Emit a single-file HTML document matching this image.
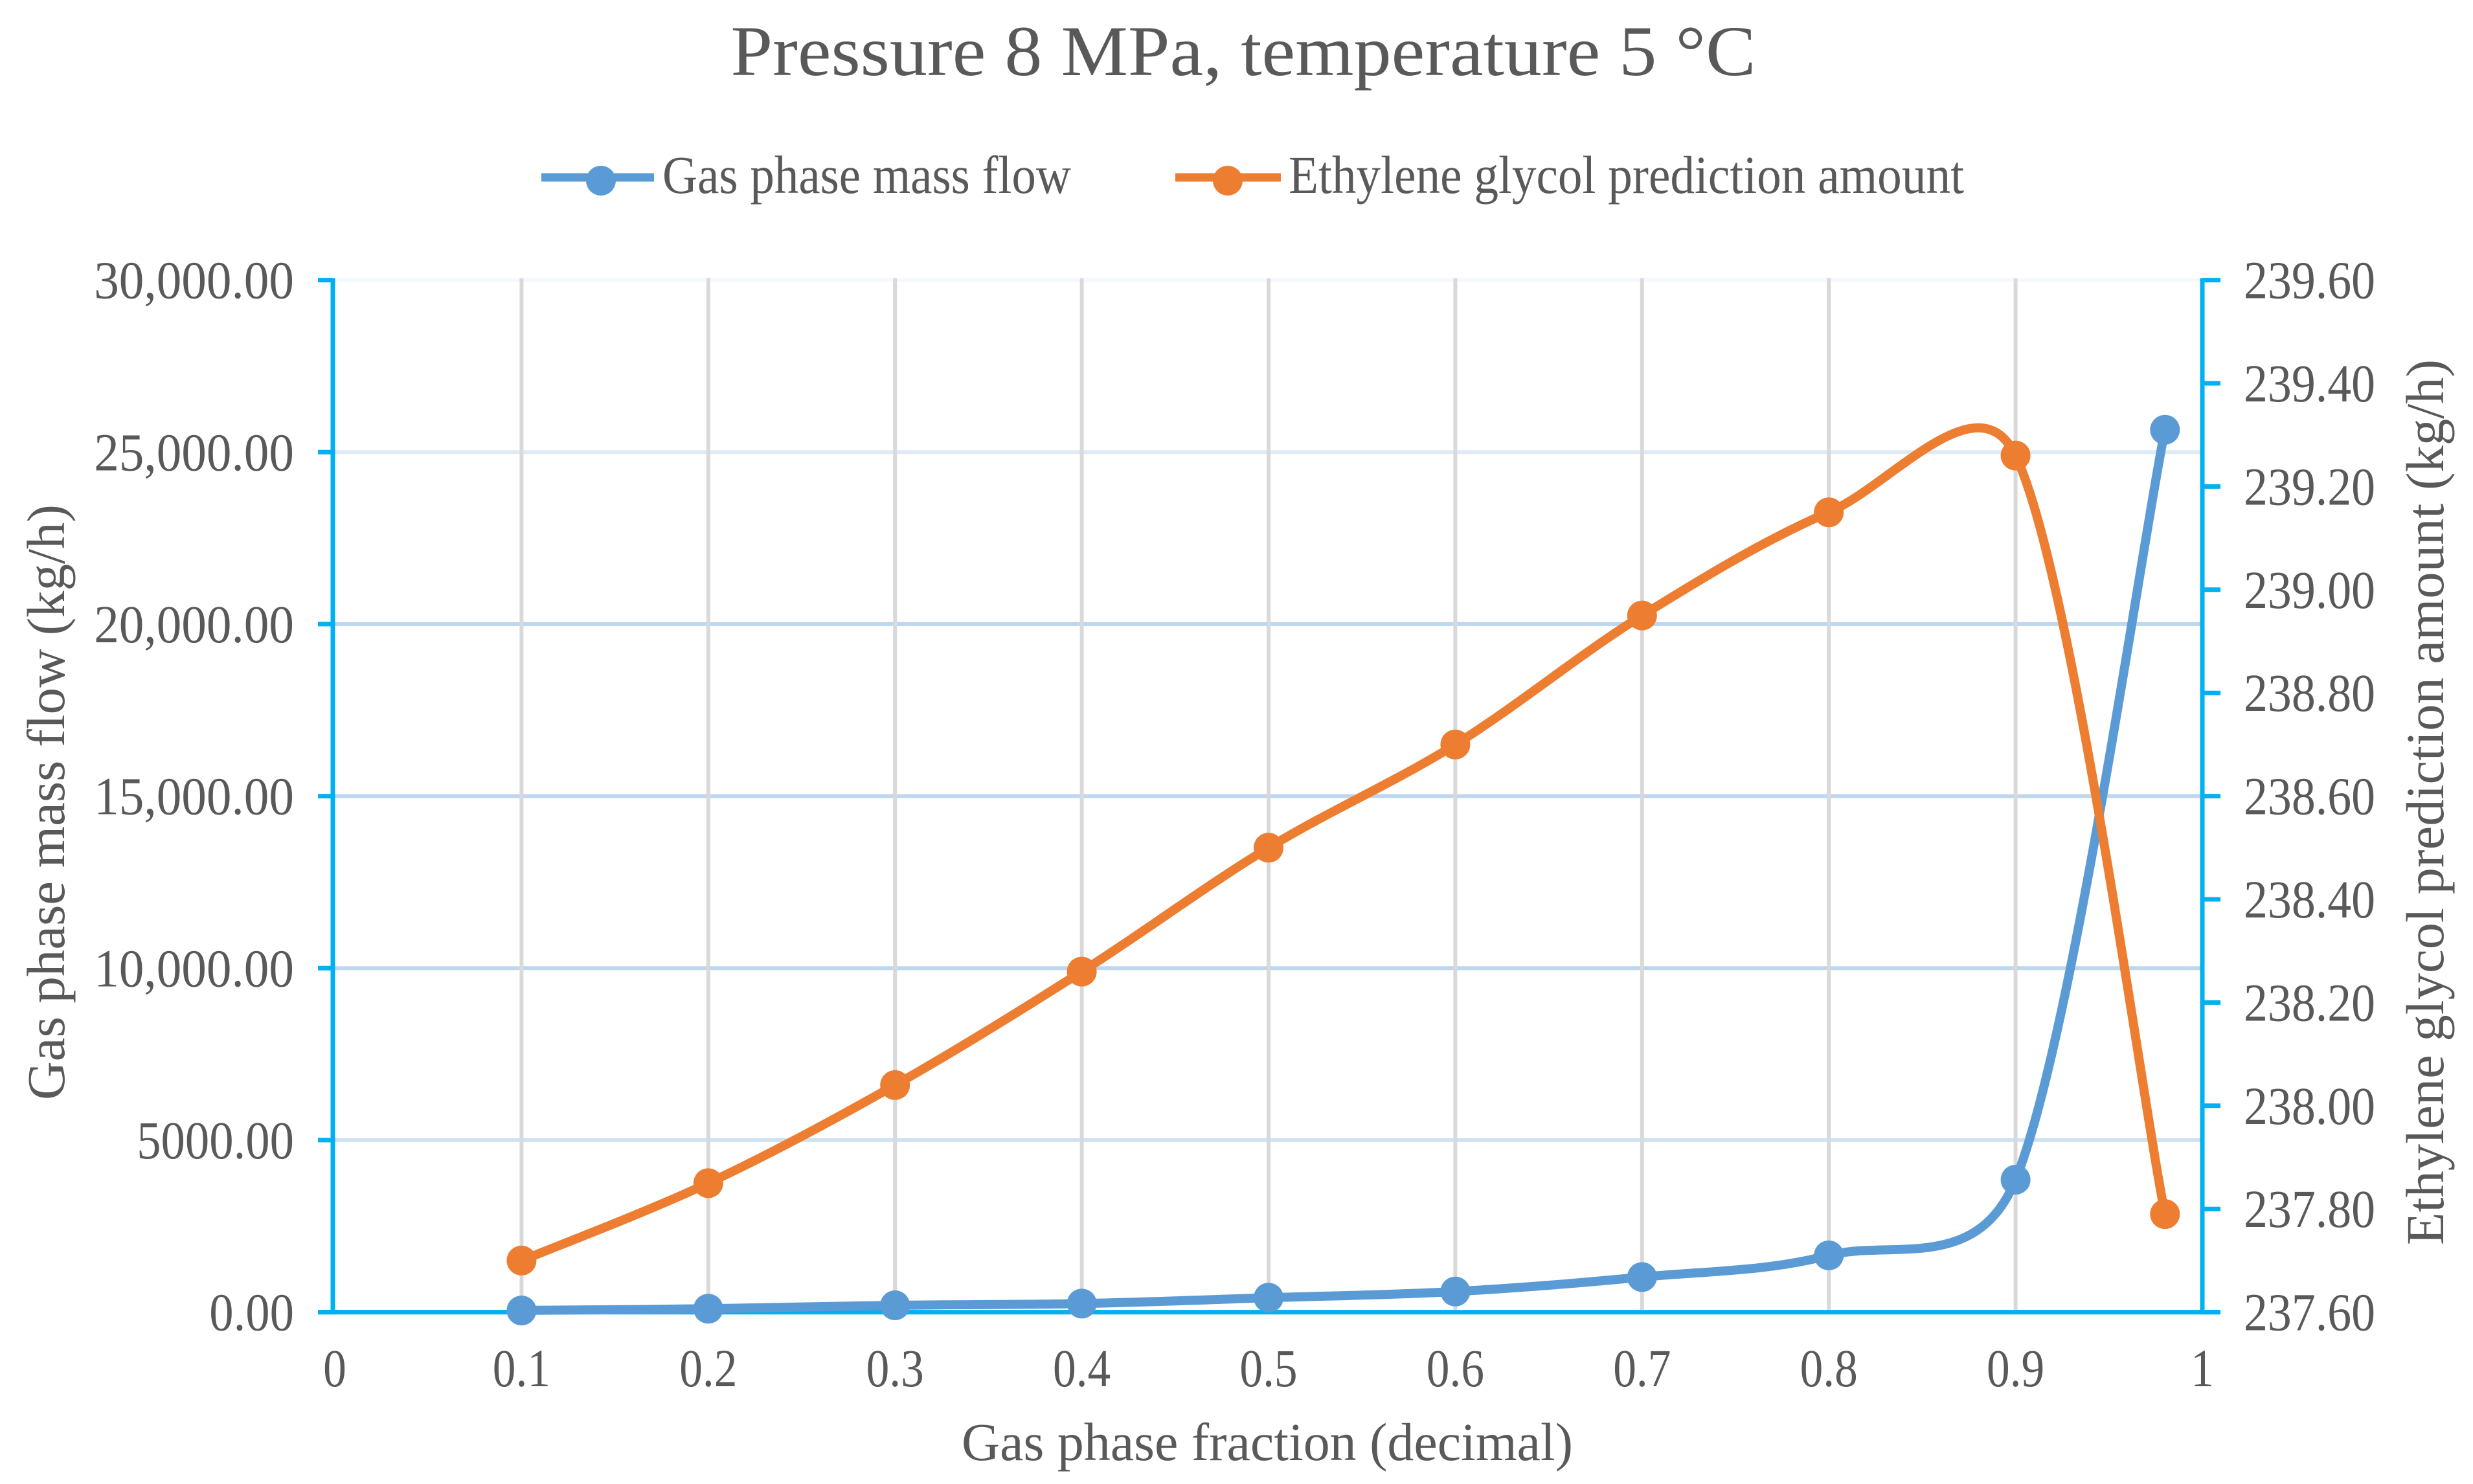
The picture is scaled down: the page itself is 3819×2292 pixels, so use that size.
<!DOCTYPE html>
<html lang="en">
<head>
<meta charset="utf-8">
<title>Pressure 8 MPa, temperature 5 °C</title>
<style>
  html, body { margin: 0; padding: 0; background: #ffffff; }
  svg { display: block; }
  text { font-family: "Liberation Serif", "Times New Roman", serif; fill: #595959; }
</style>
</head>
<body>
<svg id="chart" xmlns="http://www.w3.org/2000/svg" width="3819" height="2292" viewBox="0 0 3819 2292">
  <rect x="0" y="0" width="3819" height="2292" fill="#ffffff"/>
  <text x="1920" y="116" font-size="110" text-anchor="middle" textLength="1583" lengthAdjust="spacingAndGlyphs">Pressure 8 MPa, temperature 5 °C</text>
  <g id="grid"></g>
  <g id="axes"></g>
  <g id="series"></g>
  <g>
    <g>
      <line x1="836" y1="274" x2="1010" y2="274" stroke="#5B9BD5" stroke-width="13"/>
      <circle cx="928" cy="279" r="23" fill="#5B9BD5"/>
      <text x="1023" y="298" font-size="83" textLength="631" lengthAdjust="spacingAndGlyphs">Gas phase mass flow</text>
    </g>
    <g>
      <line x1="1815" y1="274" x2="1978" y2="274" stroke="#ED7D31" stroke-width="13"/>
      <circle cx="1896" cy="279" r="23" fill="#ED7D31"/>
      <text x="1990" y="298" font-size="83" textLength="1043" lengthAdjust="spacingAndGlyphs">Ethylene glycol prediction amount</text>
    </g>
  </g>
  <text x="1957" y="2255" font-size="83" text-anchor="middle" textLength="944" lengthAdjust="spacingAndGlyphs">Gas phase fraction (decimal)</text>
  <text transform="translate(99,1239) rotate(-90)" font-size="83" text-anchor="middle" textLength="920" lengthAdjust="spacingAndGlyphs">Gas phase mass flow (kg/h)</text>
  <text transform="translate(3773,1239) rotate(-90)" font-size="83" text-anchor="middle" textLength="1368" lengthAdjust="spacingAndGlyphs">Ethylene glycol prediction amount (kg/h)</text>
</svg>
<script>
const gasFraction = [0.1, 0.2, 0.3, 0.4, 0.5, 0.6, 0.7, 0.8, 0.9, 0.98];
const gasPhaseMassFlow = [50, 100, 200, 250, 420, 600, 1020, 1650, 3850, 25650];
const ethyleneGlycolAmount = [237.70, 237.85, 238.04, 238.26, 238.50, 238.70, 238.95, 239.15, 239.26, 237.79];
const xTickValues = [0, 0.1, 0.2, 0.3, 0.4, 0.5, 0.6, 0.7, 0.8, 0.9, 1];
const leftTickValues = [0, 5000, 10000, 15000, 20000, 25000, 30000];
const leftTickLabels = ["0.00", "5000.00", "10,000.00", "15,000.00", "20,000.00", "25,000.00", "30,000.00"];
const rightTickValues = [237.6, 237.8, 238.0, 238.2, 238.4, 238.6, 238.8, 239.0, 239.2, 239.4, 239.6];
const rightTickLabels = ["237.60", "237.80", "238.00", "238.20", "238.40", "238.60", "238.80", "239.00", "239.20", "239.40", "239.60"];

const NS = "http://www.w3.org/2000/svg";
const PLOT = { left: 514, right: 3401, top: 432.6, bottom: 2026.6 };
const xScale = v => 517 + (v / 1) * (PLOT.right - 517);
const yLeft = v => PLOT.bottom - (v / 30000) * (PLOT.bottom - PLOT.top);
const yRight = v => PLOT.bottom - ((v - 237.6) / 2) * (PLOT.bottom - PLOT.top);
const hGridColors = ["none", "#CFE2F3", "#BDD7EE", "#BDD7EE", "#BDD7EE", "#DEEBF7", "#F5F9FD"];

function el(tag, attrs, parent) {
  const node = document.createElementNS(NS, tag);
  for (const k in attrs) node.setAttribute(k, attrs[k]);
  parent.appendChild(node);
  return node;
}

function label(parent, str, x, y, anchor, factor) {
  const t = el("text", { x: x, y: y, "font-size": 83, "text-anchor": anchor }, parent);
  t.textContent = str;
  const natural = t.getComputedTextLength();
  t.setAttribute("textLength", (natural * factor).toFixed(1));
  t.setAttribute("lengthAdjust", "spacingAndGlyphs");
  return t;
}

function smoothPath(pts) {
  const handle = (p0, p1, p2) => {
    const tx = p2[0] - p0[0], ty = p2[1] - p0[1];
    const d1 = Math.hypot(p1[0] - p0[0], p1[1] - p0[1]);
    const d2 = Math.hypot(p2[0] - p1[0], p2[1] - p1[1]);
    const total = (d1 + d2) || 1;
    const kBefore = Math.min(1 / 6, 0.55 * d1 / total);
    const kAfter = Math.min(1 / 6, 0.55 * d2 / total);
    return {
      before: [p1[0] - tx * kBefore, p1[1] - ty * kBefore],
      after: [p1[0] + tx * kAfter, p1[1] + ty * kAfter]
    };
  };
  let d = "M" + pts[0][0].toFixed(1) + " " + pts[0][1].toFixed(1);
  for (let i = 0; i < pts.length - 1; i++) {
    const a = pts[i], b = pts[i + 1];
    const c1 = handle(pts[Math.max(i - 1, 0)], a, b).after;
    const c2 = handle(a, b, pts[Math.min(i + 2, pts.length - 1)]).before;
    d += " C" + c1[0].toFixed(1) + " " + c1[1].toFixed(1) + " " + c2[0].toFixed(1) + " " + c2[1].toFixed(1) + " " + b[0].toFixed(1) + " " + b[1].toFixed(1);
  }
  return d;
}

const grid = document.getElementById("grid");
const axes = document.getElementById("axes");
const series = document.getElementById("series");

leftTickValues.forEach((v, i) => {
  if (i === 0) return;
  const g = el("line", { x1: PLOT.left, x2: PLOT.right, y1: yLeft(v), y2: yLeft(v), stroke: hGridColors[i], "stroke-width": 6 }, grid);
  
  
});
xTickValues.forEach(v => {
  if (v === 0 || v === 1) return;
  const g = el("line", { x1: xScale(v), x2: xScale(v), y1: PLOT.top - 3, y2: PLOT.bottom, stroke: "#D9D9D9", "stroke-width": 6 }, grid);
  
  
});

const AXIS = "#00B0F0";
const leftAxis = el("line", { x1: PLOT.left, x2: PLOT.left, y1: PLOT.top - 3, y2: PLOT.bottom + 3, stroke: AXIS, "stroke-width": 7 }, axes);


const rightAxis = el("line", { x1: PLOT.right, x2: PLOT.right, y1: PLOT.top - 3, y2: PLOT.bottom + 3, stroke: AXIS, "stroke-width": 7 }, axes);


const bottomAxis = el("line", { x1: PLOT.left - 23, x2: PLOT.right + 28, y1: PLOT.bottom, y2: PLOT.bottom, stroke: AXIS, "stroke-width": 7 }, axes);



leftTickValues.forEach((v, i) => {
  const tick = el("line", { x1: PLOT.left - 23, x2: PLOT.left, y1: yLeft(v), y2: yLeft(v), stroke: AXIS, "stroke-width": 7 }, axes);
  
  
  const hasComma = leftTickLabels[i].indexOf(",") >= 0;
  const t = label(axes, leftTickLabels[i], 454, yLeft(v) + 28, "end", hasComma ? 0.93 : 0.9);
  
  
});
rightTickValues.forEach((v, i) => {
  const tick = el("line", { x1: PLOT.right, x2: PLOT.right + 28, y1: yRight(v), y2: yRight(v), stroke: AXIS, "stroke-width": 7 }, axes);
  
  
  const t = label(axes, rightTickLabels[i], 3465, yRight(v) + 28, "start", 0.89);
  
  
});
xTickValues.forEach(v => {
  const t = label(axes, String(v), xScale(v), 2141, "middle", 0.86);
  
  
});

function drawSeries(values, yFn, color, name) {
  const pts = gasFraction.map((x, i) => [xScale(x), yFn(values[i])]);
  const line = el("path", { d: smoothPath(pts), fill: "none", stroke: color, "stroke-width": 14, "stroke-linecap": "round", "stroke-linejoin": "round" }, series);
  
  
  pts.forEach(p => {
    const m = el("circle", { cx: p[0], cy: p[1], r: 23, fill: color }, series);
    
    
  });
}
drawSeries(gasPhaseMassFlow, yLeft, "#5B9BD5", "gas-phase-mass-flow");
drawSeries(ethyleneGlycolAmount, yRight, "#ED7D31", "ethylene-glycol-amount");
</script>
</body>
</html>
